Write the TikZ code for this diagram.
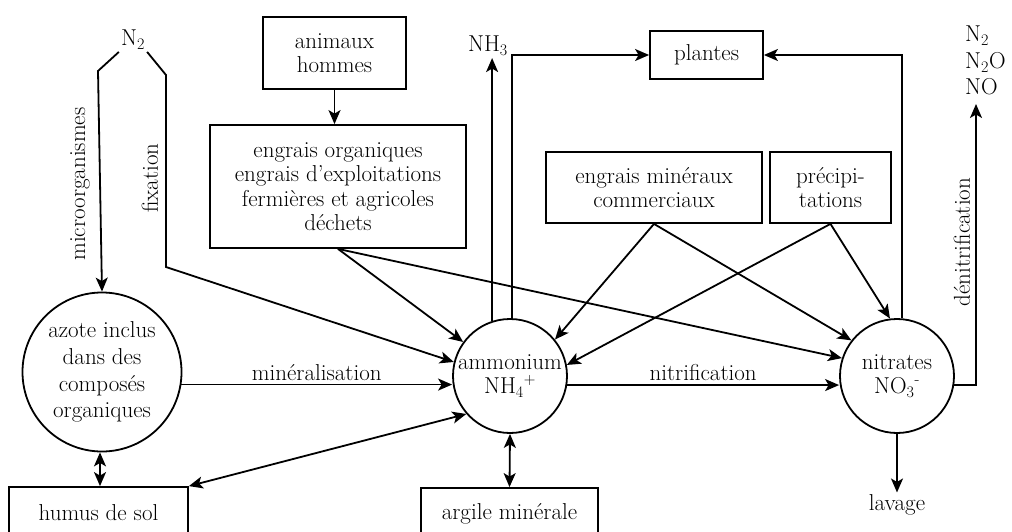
\documentclass[tikz,border=0pt]{standalone}
\usetikzlibrary{arrows.meta}

\tikzset{
  box/.style={draw, line width=1.8pt, rectangle, align=center, inner sep=0pt},
  pool/.style={draw, line width=1.8pt, circle, align=center, inner sep=0pt},
  flow/.style={line width=1.8pt, -{Stealth[length=14pt,width=12pt,inset=3.5pt]}},
  both/.style={line width=1.8pt, {Stealth[length=14pt,width=12pt,inset=3.5pt]}-{Stealth[length=14pt,width=12pt,inset=3.5pt]}}
}

\begin{document}
\begin{tikzpicture}[x=1pt, y=-1pt, font=\fontsize{23}{24.5}\selectfont]
\useasboundingbox (0,0) rectangle (1012,532);

% Pools
\node[pool, minimum size=159pt, font=\fontsize{23}{26.8}\selectfont] (azote) at (102,372) {azote inclus\\dans des\\composés\\organiques};
\node[pool, minimum size=114pt] (amm) at (510,376) {ammonium\\NH\textsubscript{4}\textsuperscript{+}};
\node[pool, minimum size=114pt] (nit) at (897,376) {nitrates\\NO\textsubscript{3}\textsuperscript{-}};

% Sources and sinks
\node[box, minimum width=143pt, minimum height=72pt] (anim) at (334.5,53) {animaux\\hommes};
\node[box, minimum width=256pt, minimum height=123pt] (org) at (338,186.5) {engrais organiques\\engrais d’exploitations\\fermières et agricoles\\déchets};
\node[box, minimum width=113pt, minimum height=48pt] (plantes) at (706.5,55) {plantes};
\node[box, minimum width=216pt, minimum height=71pt] (min) at (654,187.5) {engrais minéraux\\commerciaux};
\node[box, minimum width=121pt, minimum height=71pt] (prec) at (830.5,187.5) {précipi-\\tations};
\node[box, minimum width=179pt, minimum height=52pt] (humus) at (98.5,513) {humus de sol};
\node[box, minimum width=177pt, minimum height=52pt] (argile) at (509.5,514) {argile minérale};

% Gases and labels
\node[inner sep=2pt] (n2) at (133,40) {N\textsubscript{2}};
\node[inner sep=2pt] (nh3) at (488,46) {NH\textsubscript{3}};
\node[inner sep=0pt, anchor=north west, align=left, font=\fontsize{23}{26.5}\selectfont] (gas) at (965,26) {N\textsubscript{2}\\N\textsubscript{2}O\\NO};
\node[inner sep=2pt] (lavage) at (897,505) {lavage};
\coordinate (mL) at (98,71);
\coordinate (fR) at (166,75);
\coordinate (fB) at (166,267);
\coordinate (gasTip) at (976,104);

% Fixation
\draw[flow] (n2.south west) -- (mL) -- (azote.north);
\draw[flow] (n2.south east) -- (fR) -- (fB) -- (amm.166);
\node[rotate=90] (micro) at (80,184) {microorganismes};
\node[rotate=90] (fix) at (150,178) {fixation};

% Inputs
\draw[flow] (anim.south) -- (org.north -| anim.south);
\draw[flow] (org.south) -- (amm.144);
\draw[flow] (org.south) -- (nit.162);
\draw[flow] (min.south) -- (amm.39);
\draw[flow] (min.south) -- (nit.142);
\draw[flow] (prec.south) -- (amm.11);
\draw[flow] (prec.south) -- (nit.97);

% Transformations
\draw[flow] (azote.-9.5) -- (azote.-9.5 -| amm.west) node[midway, above, inner sep=3pt] (minl) {minéralisation};
\draw[flow] (amm.-9) -- (amm.-9 -| nit.west) node[midway, above, inner sep=3pt] (nitl) {nitrification};
\draw[flow] (amm.108) -- (amm.108 |- nh3.south);
\draw[flow] (amm.88) |- (plantes.west);
\draw[flow] (nit.85) |- (plantes.east);
\draw[flow] (nit.-9) -| (gasTip);
\node[rotate=90] (denit) at (962,242) {dénitrification};
\draw[flow] (nit.south) -- (lavage.north);

% Exchanges
\draw[both] (azote.south -| 100,0) -- (humus.north -| 100,0);
\draw[both] (amm.221) -- (humus.north east);
\draw[both] (amm.south) -- (argile.north);
\end{tikzpicture}
\end{document}
